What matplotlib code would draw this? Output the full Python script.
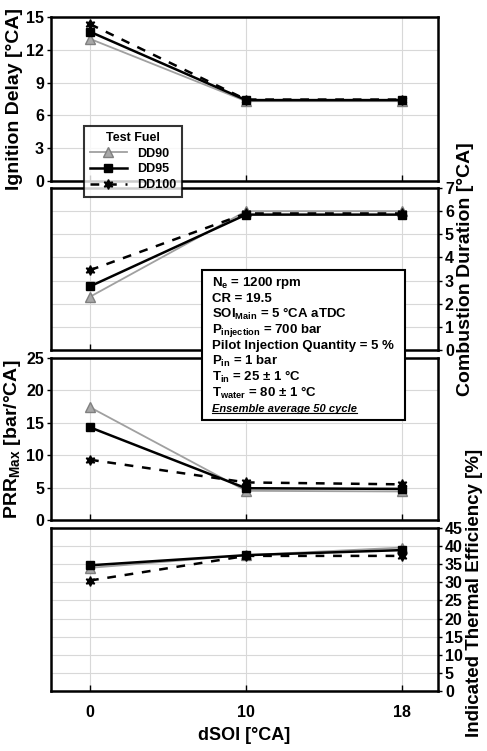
import numpy as np
import matplotlib
matplotlib.use("Agg")
import matplotlib.pyplot as plt
from matplotlib.lines import Line2D
from matplotlib.patches import Rectangle

plt.rcParams["font.family"] = ["Liberation Sans", "DejaVu Sans"]
plt.rcParams["font.weight"] = "bold"
plt.rcParams["mathtext.fontset"] = "custom"
plt.rcParams["mathtext.rm"] = "Liberation Sans:bold"
plt.rcParams["mathtext.it"] = "Liberation Sans:bold:italic"
plt.rcParams["mathtext.bf"] = "Liberation Sans:bold"
plt.rcParams["mathtext.default"] = "rm"

# data
dsoi = ["0", "10", "18"]
fuels = ["DD90", "DD95", "DD100"]

ign_delay = {
    "DD90": [13.0, 7.3, 7.3],
    "DD95": [13.65, 7.4, 7.4],
    "DD100": [14.35, 7.45, 7.45],
}
comb_dur = {
    "DD90": [2.3, 6.0, 6.0],
    "DD95": [2.75, 5.85, 5.85],
    "DD100": [3.45, 5.9, 5.9],
}
prr_max = {
    "DD90": [17.4, 4.5, 4.4],
    "DD95": [14.3, 4.9, 4.8],
    "DD100": [9.3, 5.8, 5.5],
}
ite = {
    "DD90": [34.0, 37.5, 39.6],
    "DD95": [34.7, 37.5, 38.9],
    "DD100": [30.5, 37.3, 37.3],
}

styles = {
    "DD90": dict(color="#a0a0a0", linestyle="-", linewidth=1.3, marker="^",
                 markersize=6.5, markerfacecolor="#a8a8a8", markeredgecolor="#808080"),
    "DD95": dict(color="black", linestyle="-", linewidth=1.8, marker="s",
                 markersize=5.5, markerfacecolor="black", markeredgecolor="black"),
    "DD100": dict(color="black", linestyle=(0, (3.5, 3.5)), linewidth=1.8, marker=(6, 1, 0),
                  markersize=7, markerfacecolor="black", markeredgecolor="black"),
}

fig = plt.figure(figsize=(4.87, 7.51), dpi=100)

left = 51 / 487
width = 387 / 487
H = 751
panels = [
    (ign_delay, 17, 181, (0, 15), np.arange(0, 16, 3), "left", "Ignition Delay [°CA]"),
    (comb_dur, 188, 350, (0, 7), np.arange(0, 8, 1), "right", "Combustion Duration [°CA]"),
    (prr_max, 358, 520, (0, 25), np.arange(0, 26, 5), "left", "PRR$_{Max}$ [bar/°CA]"),
    (ite, 528, 691, (0, 45), np.arange(0, 46, 5), "right", "Indicated Thermal Efficiency [%]"),
]

x = np.arange(len(dsoi))
axes = []
for i, (data, top, bot, ylim, yt, side, ylab) in enumerate(panels):
    ax = fig.add_axes([left, 1 - bot / H, width, (bot - top) / H])
    for f in fuels:
        ax.plot(x, data[f], label=f, zorder=3, **styles[f])
    ax.set_xlim(-0.25, 2.23)
    ax.set_ylim(*ylim)
    ax.set_yticks(yt)
    ax.set_xticks(x)
    ax.grid(True, color="#d8d8d8", linewidth=0.8)
    ax.set_axisbelow(True)
    for s in ax.spines.values():
        s.set_linewidth(1.8)
    ax.tick_params(axis="x", direction="in", length=4, width=1)
    ax.tick_params(axis="y", direction="out", length=3, width=1, labelsize=11.5, pad=2)
    if side == "right":
        ax.yaxis.tick_right()
        ax.yaxis.set_label_position("right")
    ax.set_ylabel(ylab, fontsize=14, fontweight="bold", labelpad=2)
    if i == 3:
        ax.set_xticklabels(dsoi, fontsize=11.5, fontweight="bold")
        ax.tick_params(axis="x", pad=10)
        ax.set_xlabel("dSOI [°CA]", fontsize=13, fontweight="bold", labelpad=5)
        # long label: keep it inside the figure
        ax.yaxis.label.set_fontsize(13.5)
        ax.yaxis.label.set_y(0.6)
    else:
        ax.set_xticklabels([])
    axes.append(ax)

# legend
handles = [Line2D([0], [0], **styles[f]) for f in fuels]
leg = fig.legend(handles, fuels, title="Test Fuel", loc="center",
                 bbox_to_anchor=(133 / 487, 1 - 161.5 / H), fontsize=9,
                 title_fontproperties={"weight": "bold", "size": 9},
                 frameon=True, fancybox=False, edgecolor="black",
                 handlelength=3.0, labelspacing=0.3, borderpad=0.45,
                 handletextpad=0.8)
leg.get_frame().set_linewidth(1.5)
leg.set_zorder(10)

# conditions box
box_lines = [
    "N$_e$ = 1200 rpm",
    "CR = 19.5",
    "SOI$_{Main}$ = 5 °CA aTDC",
    "P$_{injection}$ = 700 bar",
    "Pilot Injection Quantity = 5 %",
    "P$_{in}$ = 1 bar",
    "T$_{in}$ = 25 ± 1 °C",
    "T$_{water}$ = 80 ± 1 °C",
]
fig.patches.append(Rectangle((202 / 487, 1 - 420 / H), 203 / 487, 150 / H,
                             transform=fig.transFigure, facecolor="white",
                             edgecolor="black", linewidth=1.5, zorder=10))
y0 = 283
for k, line in enumerate(box_lines):
    fig.text(212 / 487, 1 - (y0 + 15.7 * k) / H, line, fontsize=9.5,
             fontweight="bold", va="center", ha="left", zorder=11)
last = fig.text(212 / 487, 1 - (y0 + 15.7 * 8) / H, "Ensemble average 50 cycle",
                fontsize=8, fontweight="bold", style="italic", va="center",
                ha="left", zorder=11)

fig.canvas.draw()
bb = last.get_window_extent().transformed(fig.transFigure.inverted())
fig.add_artist(Line2D([bb.x0, bb.x1], [bb.y0 + 0.001, bb.y0 + 0.001],
                      transform=fig.transFigure, color="black", linewidth=0.8,
                      zorder=12))

fig.savefig("out.png", dpi=100)
